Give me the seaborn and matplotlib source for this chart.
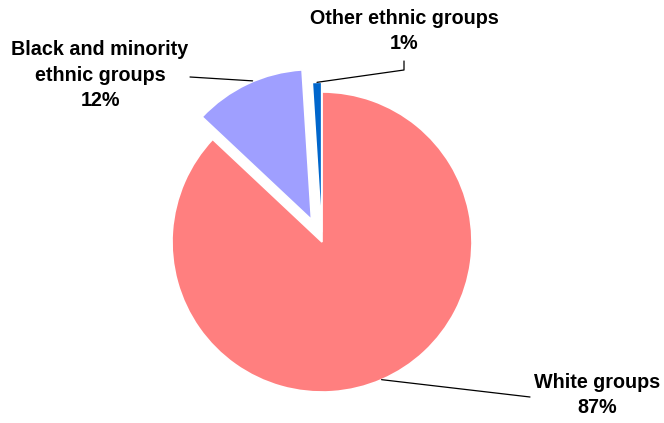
import numpy as np
import matplotlib
matplotlib.use("Agg")
import matplotlib.pyplot as plt
import seaborn as sns

groups = ["White groups", "Black and minority\nethnic groups", "Other ethnic groups"]
shares = [87, 12, 1]
colors = ["#FF7F7F", "#9F9FFF", "#0066CC"]

sns.set_theme(style="white")
plt.rcParams["font.family"] = ["Liberation Sans", "DejaVu Sans"]

W, H = 664, 423
fig = plt.figure(figsize=(W / 100, H / 100), dpi=100)
ax = fig.add_axes([0, 0, 1, 1])

cx, cy, r = 322, H - 242, 150
# offsets are in data units (pixels here)
explode = [0.0, 0.165 * r, 0.065 * r]
wedges, _ = ax.pie(shares, colors=colors, explode=explode, startangle=90,
                   counterclock=False, radius=r, center=(cx, cy),
                   wedgeprops=dict(edgecolor="white", linewidth=1.2))

# pixel-like coordinate frame for the whole canvas
ax.set_xlim(0, W)
ax.set_ylim(0, H)
ax.set_aspect("equal")
ax.axis("off")


def arc_point(w):
    mid = np.deg2rad((w.theta1 + w.theta2) / 2)
    return (w.center[0] + w.r * np.cos(mid), w.center[1] + w.r * np.sin(mid))


txt = dict(fontsize=14.2, fontweight="bold", ha="center", va="center",
           color="black", linespacing=1.45)
line = dict(color="black", lw=0.9)

# White groups
x0, y0 = arc_point(wedges[0])
ax.plot([x0, 530], [y0, H - 397], **line)
ax.text(597, H - 395, f"{groups[0]}\n{shares[0]}%", **txt)

# Black and minority ethnic groups
x1, y1 = arc_point(wedges[1])
ax.plot([x1 + 5, 190], [y1 + 3, H - 77], **line)
ax.text(100, H - 75, f"{groups[1]}\n{shares[1]}%", **txt)

# Other ethnic groups
x2, y2 = arc_point(wedges[2])
ax.plot([x2, 404, 404], [y2, H - 70, H - 61], **line)
ax.text(404, H - 31, f"{groups[2]}\n{shares[2]}%", **txt)

fig.savefig("out.png", dpi=100)
